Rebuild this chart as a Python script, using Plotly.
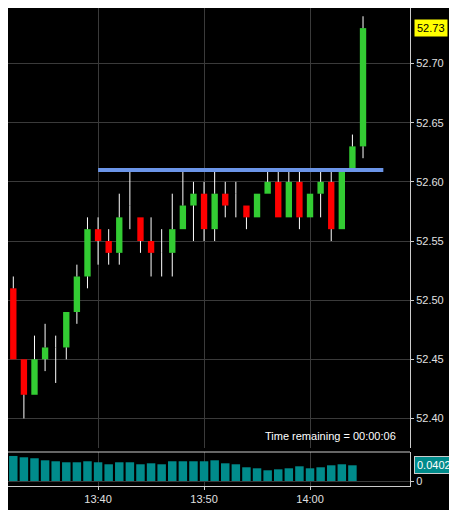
import pandas as pd
import plotly.graph_objects as go
from plotly.subplots import make_subplots

# one-minute candles, 13:32 .. 14:05
times = pd.date_range("2024-01-02 13:32", "2024-01-02 14:05", freq="1min")
opens = [52.51, 52.45, 52.42, 52.45, 52.46, 52.46, 52.49, 52.52, 52.56, 52.55, 52.54, 52.58,
         52.57, 52.55, 52.54, 52.54, 52.56, 52.58, 52.59, 52.56, 52.59, 52.59, 52.58, 52.57,
         52.59, 52.60, 52.57, 52.60, 52.57, 52.59, 52.60, 52.56, 52.61, 52.63]
highs = [52.52, 52.45, 52.47, 52.48, 52.47, 52.49, 52.53, 52.57, 52.57, 52.56, 52.59, 52.61,
         52.57, 52.57, 52.56, 52.59, 52.61, 52.60, 52.60, 52.61, 52.60, 52.60, 52.58, 52.59,
         52.61, 52.61, 52.61, 52.61, 52.59, 52.61, 52.61, 52.61, 52.64, 52.74]
lows = [52.45, 52.40, 52.42, 52.44, 52.43, 52.45, 52.48, 52.51, 52.53, 52.53, 52.53, 52.56,
        52.54, 52.52, 52.52, 52.52, 52.56, 52.55, 52.55, 52.55, 52.57, 52.57, 52.56, 52.57,
        52.59, 52.57, 52.57, 52.56, 52.57, 52.57, 52.55, 52.56, 52.61, 52.62]
closes = [52.45, 52.42, 52.45, 52.46, 52.46, 52.49, 52.52, 52.56, 52.55, 52.54, 52.57, 52.58,
          52.55, 52.54, 52.54, 52.56, 52.58, 52.59, 52.56, 52.59, 52.58, 52.59, 52.57, 52.59,
          52.60, 52.57, 52.60, 52.57, 52.59, 52.60, 52.56, 52.61, 52.63, 52.73]
volumes = [0.0641, 0.0607, 0.0582, 0.0530, 0.0505, 0.0479, 0.0479, 0.0505, 0.0479, 0.0428,
           0.0479, 0.0479, 0.0428, 0.0453, 0.0428, 0.0505, 0.0505, 0.0505, 0.0505, 0.0530,
           0.0453, 0.0428, 0.0351, 0.0325, 0.0274, 0.0299, 0.0325, 0.0376, 0.0325, 0.0351,
           0.0402, 0.0428, 0.0402]
level = 52.61
last_price = 52.73
last_volume = 0.0402

fig = make_subplots(rows=2, cols=1, shared_xaxes=True)

# wicks as white line segments above and below each body
wx, wy = [], []
for t, o, h, l, c in zip(times, opens, highs, lows, closes):
    wx += [t, t, None, t, t, None]
    wy += [h, max(o, c), None, min(o, c), l, None]
fig.add_trace(go.Scatter(x=wx, y=wy, mode="lines", line=dict(color="#ffffff", width=1),
                         showlegend=False, hoverinfo="skip"), row=1, col=1)

# doji candles (open == close) show as a single thin line
body_base = [min(o, c) for o, c in zip(opens, closes)]
body_len = [abs(c - o) for o, c in zip(opens, closes)]
body_col = ["#33cc33" if c >= o else "#ff0000" for o, c in zip(opens, closes)]
fig.add_trace(go.Bar(x=times, y=body_len, base=body_base, marker_color=body_col,
                     marker_line_width=0, width=36000, showlegend=False), row=1, col=1)

fig.add_trace(go.Bar(x=times[:len(volumes)], y=volumes, marker_color="#008b8b",
                     marker_line_width=0, width=48000, showlegend=False), row=2, col=1)

# horizontal level line
fig.add_shape(type="line", x0=pd.Timestamp("2024-01-02 13:40"), x1=pd.Timestamp("2024-01-02 14:06:55"),
              y0=level, y1=level, line=dict(color="#6b95e8", width=4), xref="x", yref="y")

grid = "#3a3a3a"
tfont = dict(color="#e0e0e0", size=11, family="Arial")
xr = [pd.Timestamp("2024-01-02 13:31:30"), pd.Timestamp("2024-01-02 14:09:26")]
fig.update_xaxes(range=xr, showgrid=True, gridcolor=grid, gridwidth=1,
                 rangeslider_visible=False, zeroline=False,
                 tickvals=pd.to_datetime(["2024-01-02 13:40", "2024-01-02 13:50", "2024-01-02 14:00"]),
                 tickformat="%H:%M", tickfont=tfont,
                 ticks="outside", tickcolor="#cccccc", ticklen=3)
fig.update_xaxes(showticklabels=False, ticks="", row=1, col=1)
fig.update_xaxes(showline=True, linecolor="#cccccc", linewidth=1, row=2, col=1)

fig.update_yaxes(side="right", range=[52.375, 52.747], dtick=0.05, tickformat=".2f",
                 domain=[0.0795, 1.0],
                 showgrid=True, gridcolor=grid, zeroline=False,
                 showline=True, linecolor="#cccccc", linewidth=1,
                 ticks="outside", tickcolor="#cccccc", ticklen=3,
                 tickfont=tfont, row=1, col=1)
fig.update_yaxes(side="right", range=[-0.0128, 0.0742], tickvals=[0], ticktext=["0"],
                 domain=[0.0, 0.0711],
                 showgrid=True, gridcolor=grid, zeroline=False,
                 showline=True, linecolor="#cccccc", linewidth=1,
                 ticks="outside", tickcolor="#cccccc", ticklen=3,
                 tickfont=tfont, row=2, col=1)

# top border of volume panel
fig.add_shape(type="line", xref="paper", yref="y2 domain", x0=0, x1=1, y0=1, y1=1,
              line=dict(color="#cccccc", width=1))

fig.add_annotation(x=1, xref="paper", y=last_price, yref="y", text="52.73", showarrow=False,
                   xanchor="left", xshift=4, bgcolor="#ffff00", font=dict(color="#000000", size=11, family="Arial"),
                   borderpad=2)
fig.add_annotation(x=1, xref="paper", y=last_volume, yref="y2", text="0.0402", showarrow=False,
                   xanchor="left", xshift=4, bgcolor="#008b8b", font=dict(color="#ffffff", size=11, family="Arial"),
                   borderpad=2, bordercolor="#cccccc")
fig.add_annotation(x=0.97, xref="paper", y=52.385, yref="y", text="Time remaining = 00:00:06",
                   showarrow=False, xanchor="right", font=dict(color="#ffffff", size=11, family="Arial"))

fig.update_layout(width=449, height=502, paper_bgcolor="#000000", plot_bgcolor="#000000",
                  margin=dict(l=0, r=47, t=0, b=24, autoexpand=False), bargap=0.2,
                  barmode="overlay")

fig.write_html("out.html")
